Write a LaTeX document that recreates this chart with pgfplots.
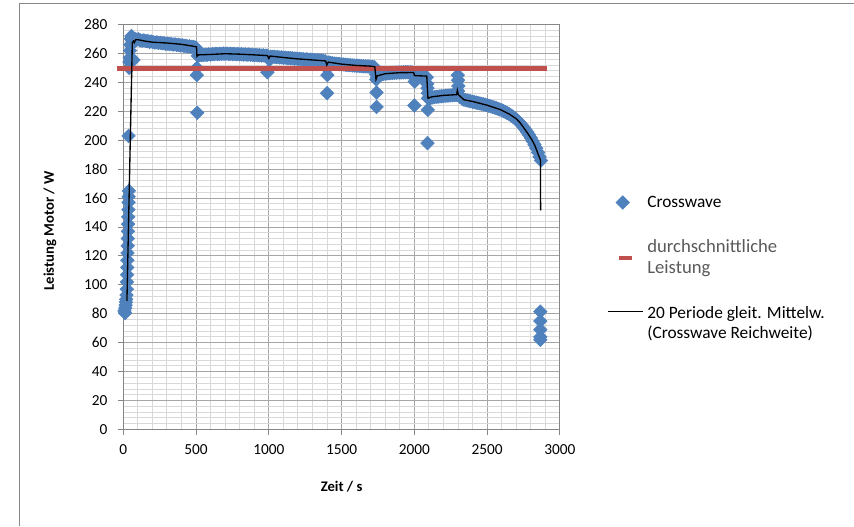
\documentclass[border=0pt]{standalone}
\usepackage{fontspec}
\setmainfont{Carlito}
\usepackage{pgfplots}
\pgfplotsset{compat=1.18}
\definecolor{cwblue}{HTML}{4F81BD}
\definecolor{avgred}{HTML}{C0504D}
\definecolor{majgrid}{HTML}{A6A6A6}
\definecolor{mingrid}{HTML}{D9D9D9}
\definecolor{axisgray}{HTML}{868686}
\definecolor{leggray}{HTML}{595959}

\begin{document}
\begin{tikzpicture}[x=0.75pt,y=0.75pt]
\path[use as bounding box] (0,0) rectangle (854,526);
\draw[color=axisgray, line width=0.75pt] (19,0) -- (19,522) -- (854,522);
\begin{axis}[
  at={(92.475pt,72.375pt)}, anchor=south west,
  scale only axis, width=327.5pt, height=303.75pt,
  xmin=0, xmax=3000, ymin=0, ymax=280,
  xtick={0,500,...,3000}, ytick={0,20,...,280},
  minor x tick num=4, minor y tick num=4,
  grid=both,
  major grid style={color=majgrid, line width=0.75pt},
  minor grid style={color=mingrid, line width=0.75pt},
  axis line style={color=axisgray, line width=0.75pt},
  tick style={color=axisgray, line width=0.75pt},
  major tick length=3.75pt, minor tick length=0pt,
  tick align=outside, xtick pos=bottom, ytick pos=left,
  scaled ticks=false,
  /pgf/number format/set thousands separator={},
  /pgf/number format/assume math mode=true,
  tick label style={font=\fontsize{11.5}{13.5}\selectfont, color=black, inner sep=0pt},
  yticklabel shift=8pt, xticklabel shift=7pt,
  xlabel={Zeit / s}, ylabel={Leistung Motor / W},
  label style={font=\fontsize{11}{13}\selectfont\bfseries},
  xlabel style={at={(axis description cs:0.5,-0.142)}, anchor=center},
  ylabel style={at={(axis description cs:-0.168,0.49)}, anchor=center},
  clip=false, clip marker paths=true,
  legend style={at={(axis description cs:1.1076,0.398)}, anchor=west,
    draw=none, fill=none, inner sep=0pt,
    font=\fontsize{13}{15.5}\selectfont,
    row sep=23pt, column sep=3pt,
    nodes={inner sep=0pt},
    cells={align=left, anchor=west}},
]
% Crosswave
\addplot[only marks, color=cwblue, mark=square*, mark size=3.6pt,
  mark options={rotate=45, fill=cwblue, draw=cwblue},
  legend image code/.code={\draw[only marks] plot coordinates {(11.25pt,0pt)};}]
coordinates {
(8,82) (12,80.5) (14,84) (16,86) (18,88) (20,90) (22,93) (24,97) (25,102)
(26,107) (27,112) (28,117) (29,122) (30,127) (31,132) (32,137) (33,142)
(34,147) (35,152) (36,157) (37,161) (38,165) (36,203)
(40,250) (42,254) (44,257) (46,262) (48,266) (52,270) (56,272) (60,271)
(65,269) (70,255.5) (75,268)
(80,270) (92,269.5) (105,269.8) (117,269) (130,268.8) (142,269) (155,268.5)
(167,268.6) (180,268) (192,268.3) (205,267.8) (217,267.5) (230,267.7)
(242,267.2) (255,267.4) (267,267) (280,267.1) (292,266.6) (305,266.8)
(317,266.4) (330,266.6) (342,266.1) (355,266.3) (367,265.8) (380,266)
(392,265.5) (405,265.7) (417,265.2) (430,265.3) (442,264.8) (455,265)
(467,264.5) (480,264.6) (492,264.2) (500,263.8)
(505,250) (505,245) (508,219)
(512,258.3) (525,258.8) (537,259) (550,258.8) (562,259.2) (575,259) (587,259.4)
(600,259.2) (612,259.6) (625,259.4) (637,259.8) (650,259.5) (662,259.8)
(675,259.6) (687,259.9) (700,259.7) (712,259.9) (725,259.6) (737,259.8)
(750,259.5) (762,259.7) (775,259.4) (787,259.6) (800,259.3) (812,259.5)
(825,259.2) (837,259.4) (850,259.1) (862,259.3) (875,259) (887,259.1)
(900,258.8) (912,259) (925,258.7) (937,258.8) (950,258.5) (962,258.7)
(975,258.4) (987,258.5)
(1000,256.5) (1005,255.5) (990,247)
(1012,257.8) (1025,257.6) (1037,257.7) (1050,257.4) (1062,257.5) (1075,257.2)
(1087,257.3) (1100,257) (1112,257.1) (1125,256.8) (1137,256.9) (1150,256.6)
(1162,256.7) (1175,256.4) (1187,256.5) (1200,256.2) (1212,256.3) (1225,256)
(1237,256.1) (1250,255.8) (1262,255.9) (1275,255.6) (1287,255.7) (1300,255.4)
(1312,255.5) (1325,255.2) (1337,255.3) (1350,255) (1362,255.1) (1375,254.8)
(1387,254.6)
(1396,252) (1400,249.5) (1402,245) (1400,232.5)
(1412,253.8) (1425,253.4) (1437,253.2) (1450,253) (1462,252.9) (1475,252.7)
(1487,252.6) (1500,252.4) (1512,252.4) (1525,252.2) (1537,252.1) (1550,251.9)
(1562,251.9) (1575,251.7) (1587,251.6) (1600,251.5) (1612,251.5) (1625,251.3)
(1637,251.3) (1650,251.1) (1662,251.1) (1675,251) (1687,251) (1700,250.8)
(1712,250.8) (1725,250.5)
(1733,248) (1736,245.5) (1738,242) (1740,233) (1740,223) (1745,243.5) (1752,244.5)
(1762,245.3) (1775,245.6) (1787,245.8) (1800,246) (1812,246.1) (1825,246.3)
(1837,246.4) (1850,246.5) (1862,246.6) (1875,246.7) (1887,246.8) (1900,246.8)
(1912,246.9) (1925,246.9) (1937,247) (1950,247) (1962,246.9) (1975,246.9)
(1987,246.8)
(1997,245) (2000,243.5) (2002,240.5) (2000,224)
(2012,244.6) (2025,244.5) (2037,244.5) (2050,244.4) (2062,244.4) (2075,244.2)
(2085,243.5)
(2088,239) (2090,236) (2092,232.5) (2093,229) (2092,221) (2090,198)
(2100,228.5) (2112,229.2) (2125,229.6) (2137,229.8) (2150,230) (2162,230.1)
(2175,230.3) (2187,230.4) (2200,230.6) (2212,230.7) (2225,230.8) (2237,230.9)
(2250,231) (2262,231.1) (2275,231.2) (2287,231.2)
(2298,245) (2300,241.5) (2302,237.5) (2300,234)
(2312,230) (2325,229) (2337,228.2) (2350,227.8) (2362,227.5) (2375,227.2)
(2387,226.9) (2400,226.6) (2412,226.3) (2425,226) (2437,225.7) (2450,225.4)
(2462,225.1) (2475,224.8) (2487,224.5) (2500,224.2) (2512,223.8) (2525,223.4)
(2537,223) (2550,222.6) (2562,222.2) (2575,221.7) (2587,221.2) (2600,220.7)
(2612,220.1) (2625,219.5) (2637,218.8) (2650,218.1) (2662,217.3) (2675,216.4)
(2687,215.4) (2700,214.4) (2712,213.2) (2725,211.9) (2737,210.5) (2750,209)
(2762,207.4) (2775,205.6) (2787,203.7) (2800,201.6) (2812,199.4) (2825,197)
(2837,194.5) (2850,191.5) (2860,188.5) (2870,186)
(2865,81.5) (2865,75) (2865,69) (2865,64) (2865,62)
};
% durchschnittliche Leistung
\addplot[color=avgred, line width=3.6pt, no marks,
  legend image code/.code={\draw[line width=3pt] (8.25pt,0pt) -- (18pt,0pt);}]
coordinates {(-40,249.5) (2908,249.5)};
% gleitender Mittelwert
\addplot[color=black, line width=1pt, no marks,
  legend image code/.code={\draw[line width=0.8pt] (0pt,9pt) -- (26.25pt,9pt);}]
coordinates {
(25,89) (62,267.5) (70,268.5) (75,267.5) (85,269.5) (100,269.5) (150,268.5)
(200,267.8) (300,267.2) (400,266.3) (480,265) (503,264.5) (506,258) (515,259)
(600,259.3) (700,259.8) (800,259.5) (900,259) (990,258.5) (1000,256.5)
(1008,258.2) (1100,257.2) (1200,256.2) (1300,255.5) (1390,254.8) (1398,252)
(1408,254) (1500,252.6) (1600,251.7) (1700,251.2) (1728,250.8) (1736,242)
(1745,244.5) (1800,246) (1900,246.7) (1995,246.8) (2000,244.7) (2085,244.3)
(2093,229) (2120,230) (2200,231) (2290,231.5) (2295,234.5) (2302,231.5)
(2340,228) (2400,226.8) (2500,224.2) (2590,221.2) (2650,218.2) (2700,214.8)
(2725,212.2) (2750,208.8) (2782,204.2) (2810,199.8) (2828,196.2) (2850,190.3)
(2866,186.3) (2867,151.5)
};
\legend{Crosswave,
  {\fontsize{14}{16.5}\selectfont\textcolor{leggray}{durchschnittliche}}\\{\fontsize{14}{16.5}\selectfont\textcolor{leggray}{Leistung}},
  20 Periode gleit. Mittelw.\\(Crosswave Reichweite)}
\end{axis}
\end{tikzpicture}
\end{document}
